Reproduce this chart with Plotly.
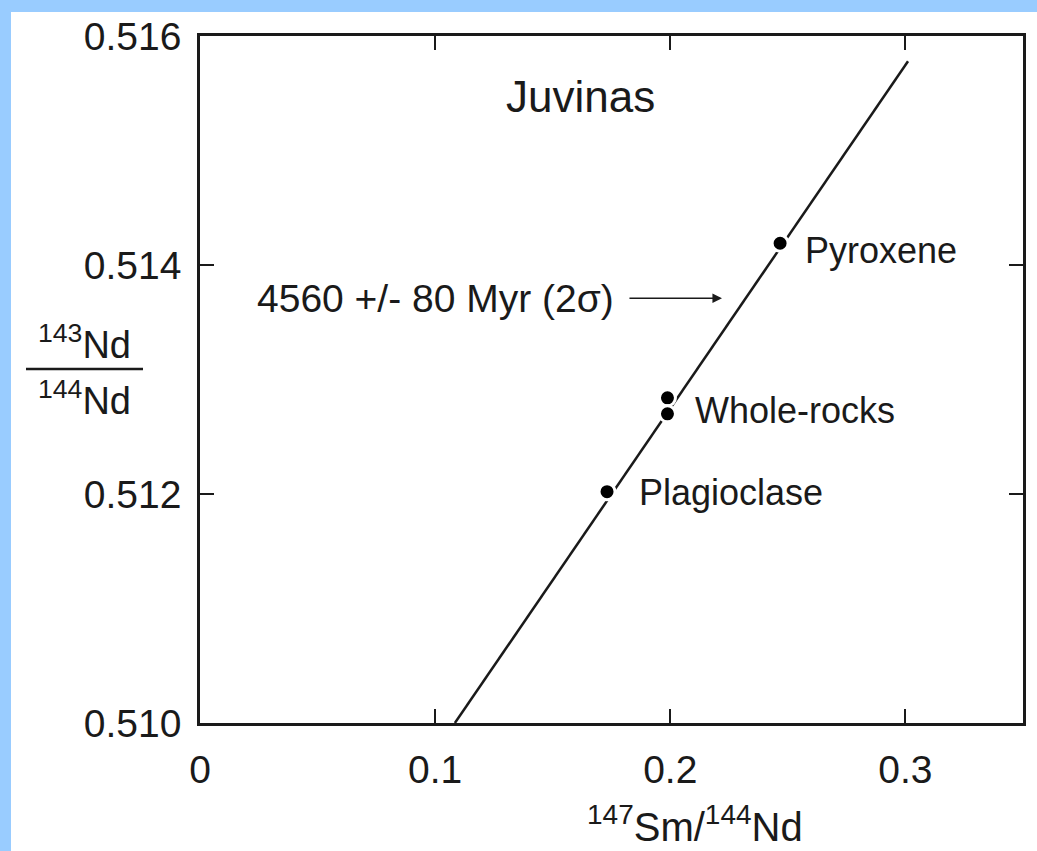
import plotly.graph_objects as go

# Sm-Nd isochron for the Juvinas eucrite
point_names = ["Plagioclase", "Whole-rock 1", "Whole-rock 2", "Pyroxene"]
sm_nd = [0.1731, 0.1988, 0.1988, 0.2467]
nd_nd = [0.51202, 0.51284, 0.51270, 0.51419]

# isochron end points
iso_x = [0.1084, 0.3011]
iso_y = [0.5100, 0.51578]

x_ticks = [0, 0.1, 0.2, 0.3]
y_ticks = [0.510, 0.512, 0.514, 0.516]

FONT = "Liberation Sans, Arial, sans-serif"
INK = "#1a1a1a"
W, H = 1037, 851
L, R, T, B = 200, 14, 36, 128
pw, ph = W - L - R, H - T - B

fig = go.Figure()

fig.add_trace(go.Scatter(x=iso_x, y=iso_y, mode="lines",
                         line=dict(color=INK, width=2.5), showlegend=False,
                         hoverinfo="skip"))

fig.add_trace(go.Scatter(x=sm_nd, y=nd_nd, mode="markers", text=point_names,
                         marker=dict(color="black", size=16,
                                     line=dict(color="white", width=3)),
                         showlegend=False))

def px_x(p):
    return (p - L) / pw

def px_y(p):
    return (H - B - p) / ph

# blue frame around the page (top and left only)
fig.add_shape(type="rect", xref="paper", yref="paper", layer="below",
              x0=px_x(11), x1=px_x(W + 5), y0=px_y(H + 5), y1=px_y(12),
              fillcolor="white", line=dict(width=0))

labels = [
    ("Juvinas", 0.1620, 0.51547, "center", 44),
    ("Pyroxene", 0.2564, 0.51413, "left", 36),
    ("Whole-rocks", 0.2097, 0.512725, "left", 36),
    ("Plagioclase", 0.1858, 0.512017, "left", 36),
    ("4560 +/- 80 Myr (2σ)", 0.0234, 0.51371, "left", 39),
]
for txt, x, y, anchor, size in labels:
    fig.add_annotation(x=x, y=y, text=txt, showarrow=False, xanchor=anchor,
                       yanchor="middle", font=dict(family=FONT, size=size, color=INK))

# arrow pointing at the isochron
fig.add_annotation(x=0.2220, y=0.51371, ax=0.1820, ay=0.51371, axref="x", ayref="y",
                   text="", showarrow=True, arrowhead=2, arrowsize=1.2,
                   arrowwidth=1.6, arrowcolor=INK)

# axis titles
fig.add_annotation(xref="paper", yref="paper", x=px_x(695), y=px_y(824),
                   text="<sup>147</sup>Sm/<sup>144</sup>Nd", showarrow=False,
                   xanchor="center", yanchor="middle",
                   font=dict(family=FONT, size=40, color=INK))
fig.add_annotation(xref="paper", yref="paper", x=px_x(84), y=px_y(342),
                   text="<sup>143</sup>Nd", showarrow=False,
                   xanchor="center", yanchor="middle",
                   font=dict(family=FONT, size=38, color=INK))
fig.add_annotation(xref="paper", yref="paper", x=px_x(84), y=px_y(398),
                   text="<sup>144</sup>Nd", showarrow=False,
                   xanchor="center", yanchor="middle",
                   font=dict(family=FONT, size=38, color=INK))
fig.add_shape(type="line", xref="paper", yref="paper",
              x0=px_x(26), x1=px_x(143), y0=px_y(369), y1=px_y(369),
              line=dict(color=INK, width=2.5))

axis_style = dict(showline=True, linecolor=INK, linewidth=2.5, mirror="ticks",
                  ticks="inside", ticklen=14, tickwidth=2, tickcolor=INK,
                  showgrid=False, zeroline=False,
                  tickfont=dict(family=FONT, size=39, color=INK))

fig.update_xaxes(range=[0, 0.35], tickvals=x_ticks,
                 ticktext=["0", "0.1", "0.2", "0.3"], ticklabelstandoff=10,
                 **axis_style)
fig.update_yaxes(range=[0.510, 0.516], tickvals=y_ticks,
                 ticktext=["0.510", "0.512", "0.514", "0.516"],
                 ticklabelstandoff=8, **axis_style)

fig.update_layout(width=W, height=H, margin=dict(l=L, r=R, t=T, b=B),
                  paper_bgcolor="#99ccff", plot_bgcolor="white",
                  showlegend=False)

fig.write_html("out.html", config={"displayModeBar": False},
               post_script="document.body.style.margin='0';")
